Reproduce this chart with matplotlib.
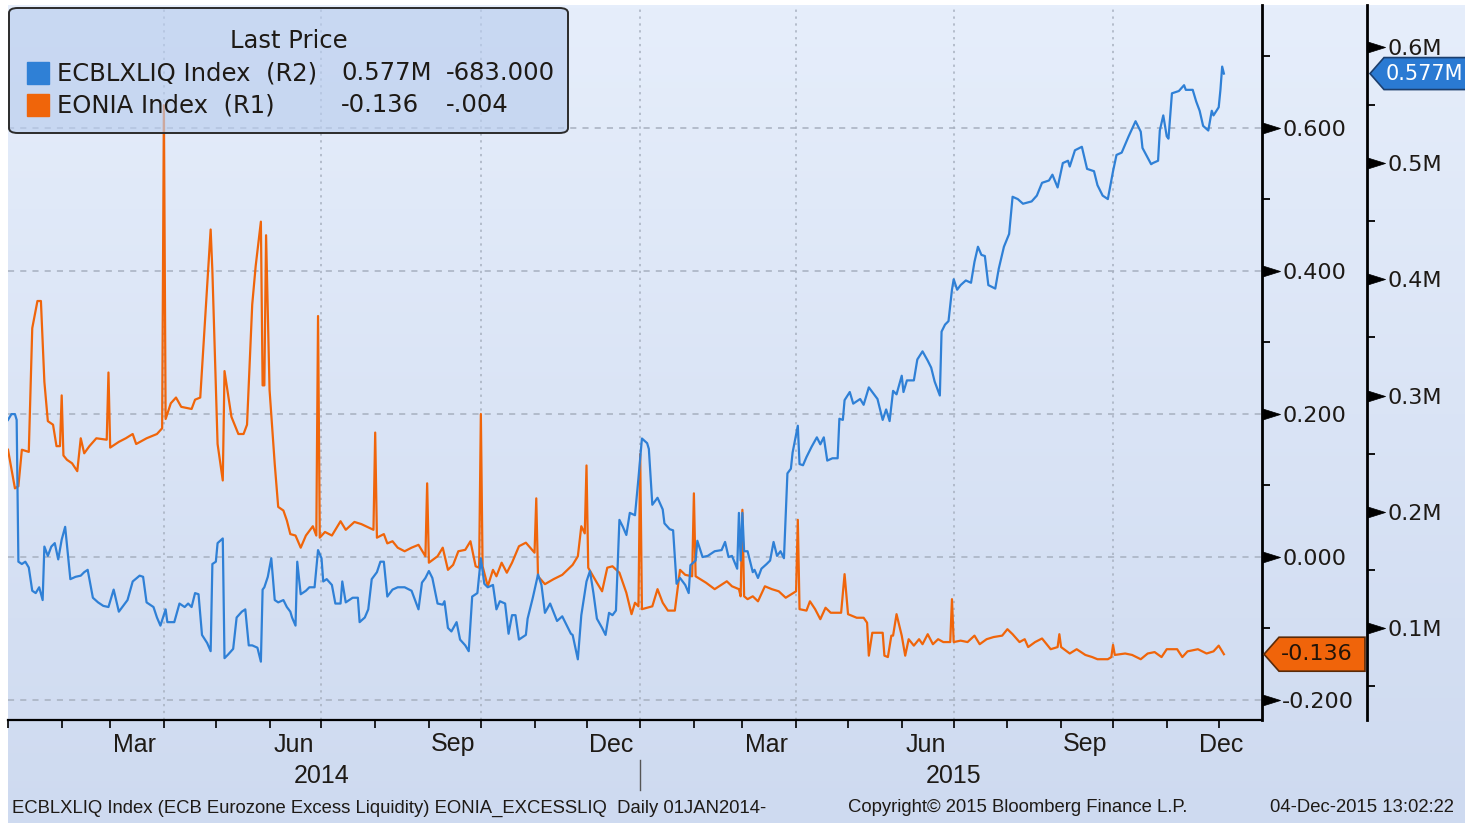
import matplotlib
matplotlib.use('Agg')
import matplotlib.pyplot as plt
import matplotlib.dates as mdates
from matplotlib.colors import LinearSegmentedColormap
from matplotlib.patches import Polygon, FancyBboxPatch, Rectangle
from matplotlib.path import Path
from matplotlib.transforms import IdentityTransform, blended_transform_factory
from matplotlib.ticker import FuncFormatter
import numpy as np
import pandas as pd

start = pd.Timestamp('2014-01-01')

# EONIA Index (R1), days since 01JAN2014 / percent
eonia_days = [0, 4, 6, 8, 12, 14, 17, 19, 21, 23, 26, 28, 30, 31, 32, 34, 37, 40, 42, 44, 47, 51, 57, 58, 59,
              64, 68, 72, 74, 80, 86, 89, 90, 91, 94, 97, 100, 106, 108, 111, 117, 118, 121, 124, 125, 129,
              133, 136, 138, 141, 143, 146, 147, 148, 149, 151, 154, 156, 159, 161, 163, 166, 169, 172, 176,
              178, 179, 180, 183, 187, 192, 195, 200, 204, 211, 212, 213, 217, 219, 222, 225, 229, 233, 237,
              241, 242, 243, 248, 251, 254, 257, 260, 264, 267, 270, 272, 273, 274, 277, 280, 282, 285, 288,
              291, 295, 299, 304, 305, 306, 310, 315, 320, 326, 329, 331, 333, 334, 335, 340, 343, 346, 349,
              353, 357, 360, 362, 364, 365, 366, 372, 375, 378, 381, 385, 388, 391, 395, 396, 397, 403, 408,
              415, 418, 422, 423, 424, 425, 427, 430, 433, 437, 441, 445, 449, 455, 456, 457, 461, 463, 466,
              469, 472, 475, 481, 483, 485, 490, 494, 496, 497, 499, 505, 506, 508, 510, 511, 513, 516, 518,
              520, 523, 526, 528, 531, 534, 537, 540, 544, 545, 546, 550, 554, 558, 561, 565, 569, 574, 577,
              580, 584, 587, 589, 593, 597, 602, 606, 607, 608, 613, 617, 622, 626, 629, 635, 637, 638, 639,
              645, 649, 654, 658, 662, 666, 669, 675, 678, 681, 687, 692, 696, 699, 702]
eonia_vals = [0.150, 0.096, 0.099, 0.150, 0.147, 0.320, 0.358, 0.358, 0.245, 0.190, 0.185, 0.155, 0.155,
              0.226, 0.142, 0.136, 0.131, 0.120, 0.166, 0.145, 0.155, 0.166, 0.164, 0.258, 0.153, 0.161,
              0.166, 0.172, 0.158, 0.166, 0.172, 0.180, 0.632, 0.193, 0.215, 0.223, 0.210, 0.207, 0.220,
              0.223, 0.458, 0.400, 0.158, 0.107, 0.260, 0.196, 0.172, 0.172, 0.185, 0.353, 0.407, 0.469,
              0.240, 0.240, 0.450, 0.234, 0.130, 0.070, 0.065, 0.051, 0.032, 0.030, 0.013, 0.030, 0.043,
              0.030, 0.337, 0.027, 0.035, 0.030, 0.050, 0.038, 0.049, 0.046, 0.038, 0.174, 0.027, 0.032,
              0.019, 0.022, 0.013, 0.008, 0.013, 0.017, 0.001, 0.103, -0.008, 0.001, 0.013, -0.018, -0.011,
              0.008, 0.010, 0.022, -0.013, -0.015, 0.200, -0.013, -0.041, -0.018, -0.027, -0.008, -0.022,
              -0.008, 0.015, 0.020, 0.006, 0.082, -0.027, -0.038, -0.031, -0.025, -0.011, 0.001, 0.043,
              0.033, 0.128, -0.015, -0.036, -0.048, -0.015, -0.013, -0.022, -0.050, -0.080, -0.064, -0.069,
              0.144, -0.073, -0.069, -0.045, -0.064, -0.075, -0.075, -0.018, -0.025, -0.027, 0.089, -0.027,
              -0.036, -0.045, -0.034, -0.041, -0.045, -0.055, 0.066, -0.055, -0.059, -0.055, -0.062, -0.041,
              -0.045, -0.048, -0.057, -0.048, 0.052, -0.073, -0.075, -0.062, -0.073, -0.087, -0.071, -0.078,
              -0.078, -0.024, -0.080, -0.085, -0.085, -0.092, -0.138, -0.106, -0.106, -0.138, -0.140, -0.110,
              -0.110, -0.080, -0.110, -0.138, -0.115, -0.124, -0.115, -0.122, -0.108, -0.122, -0.115, -0.119,
              -0.119, -0.059, -0.119, -0.117, -0.119, -0.110, -0.122, -0.115, -0.112, -0.110, -0.101, -0.108,
              -0.119, -0.115, -0.126, -0.119, -0.114, -0.129, -0.126, -0.108, -0.126, -0.135, -0.129, -0.137,
              -0.140, -0.143, -0.143, -0.140, -0.123, -0.137, -0.135, -0.137, -0.143, -0.135, -0.133, -0.140,
              -0.129, -0.129, -0.140, -0.132, -0.129, -0.135, -0.132, -0.124, -0.136]

# ECBLXLIQ Index (R2), days since 01JAN2014 / millions
liq_days = [0, 2, 4, 5, 6, 8, 10, 12, 14, 16, 18, 20, 21, 23, 25, 27, 29, 31, 33, 36, 39, 42, 44, 46, 49, 52,
            55, 58, 61, 64, 69, 72, 76, 78, 80, 84, 86, 88, 91, 92, 96, 99, 102, 104, 106, 108, 110, 112, 115,
            117, 118, 120, 121, 124, 125, 127, 130, 132, 135, 137, 139, 141, 144, 146, 147, 148, 150, 152, 154,
            156, 159, 161, 163, 164, 166, 167, 169, 172, 174, 177, 179, 181, 182, 184, 187, 189, 192, 193, 195,
            199, 202, 203, 206, 208, 210, 213, 215, 217, 219, 222, 225, 229, 233, 237, 239, 241, 243, 245, 248,
            251, 252, 254, 256, 259, 261, 264, 266, 268, 271, 273, 275, 277, 280, 282, 284, 287, 289, 291, 293,
            295, 299, 300, 303, 306, 308, 310, 313, 317, 320, 325, 326, 329, 331, 334, 336, 338, 340, 343, 345,
            347, 349, 351, 353, 355, 357, 359, 362, 364, 366, 369, 370, 372, 374, 375, 378, 379, 382, 384, 386,
            388, 391, 393, 394, 397, 398, 401, 404, 408, 412, 414, 416, 418, 421, 422, 423, 424, 425, 427, 430,
            431, 433, 435, 438, 440, 442, 444, 446, 448, 450, 452, 453, 456, 457, 459, 461, 464, 467, 469, 471,
            473, 476, 479, 480, 482, 483, 486, 488, 492, 494, 497, 501, 502, 505, 507, 509, 511, 513, 516, 517,
            519, 523, 525, 528, 531, 533, 535, 538, 539, 541, 543, 545, 546, 548, 550, 553, 556, 558, 560, 562,
            564, 566, 570, 572, 575, 578, 580, 583, 586, 591, 594, 597, 601, 603, 606, 609, 612, 613, 616, 620,
            623, 627, 629, 632, 635, 638, 640, 643, 647, 651, 654, 655, 660, 661, 664, 665, 667, 669, 670, 672,
            676, 679, 680, 684, 686, 688, 690, 693, 695, 696, 699, 700, 701, 702]
liq_vals = [0.279, 0.284, 0.284, 0.279, 0.157, 0.155, 0.157, 0.152, 0.132, 0.130, 0.135, 0.124, 0.170, 0.162,
            0.170, 0.173, 0.159, 0.176, 0.187, 0.142, 0.144, 0.145, 0.148, 0.150, 0.126, 0.122, 0.119, 0.118,
            0.133, 0.114, 0.124, 0.140, 0.145, 0.144, 0.122, 0.118, 0.109, 0.102, 0.116, 0.105, 0.105, 0.121,
            0.118, 0.121, 0.118, 0.130, 0.129, 0.094, 0.087, 0.080, 0.155, 0.157, 0.173, 0.177, 0.074, 0.077,
            0.082, 0.109, 0.114, 0.116, 0.085, 0.085, 0.083, 0.071, 0.133, 0.135, 0.144, 0.160, 0.124, 0.122,
            0.124, 0.118, 0.114, 0.109, 0.102, 0.157, 0.129, 0.132, 0.135, 0.135, 0.167, 0.160, 0.140, 0.142,
            0.137, 0.121, 0.121, 0.140, 0.122, 0.126, 0.126, 0.105, 0.109, 0.116, 0.142, 0.148, 0.157, 0.157,
            0.127, 0.133, 0.135, 0.135, 0.132, 0.116, 0.139, 0.143, 0.149, 0.143, 0.121, 0.120, 0.123, 0.100,
            0.097, 0.105, 0.090, 0.085, 0.080, 0.127, 0.130, 0.160, 0.138, 0.135, 0.137, 0.116, 0.123, 0.121,
            0.095, 0.111, 0.111, 0.090, 0.094, 0.108, 0.126, 0.146, 0.137, 0.113, 0.121, 0.106, 0.110, 0.095,
            0.094, 0.073, 0.111, 0.140, 0.149, 0.130, 0.108, 0.100, 0.094, 0.113, 0.111, 0.115, 0.193, 0.187,
            0.180, 0.199, 0.197, 0.229, 0.263, 0.259, 0.254, 0.206, 0.210, 0.212, 0.202, 0.190, 0.185, 0.184,
            0.138, 0.143, 0.137, 0.130, 0.154, 0.158, 0.175, 0.161, 0.162, 0.166, 0.167, 0.174, 0.161, 0.162,
            0.151, 0.199, 0.158, 0.199, 0.166, 0.166, 0.148, 0.150, 0.143, 0.151, 0.155, 0.158, 0.174, 0.162,
            0.166, 0.160, 0.233, 0.237, 0.251, 0.274, 0.241, 0.240, 0.247, 0.256, 0.264, 0.258, 0.264, 0.244,
            0.246, 0.246, 0.280, 0.279, 0.296, 0.303, 0.293, 0.297, 0.292, 0.307, 0.299, 0.297, 0.279, 0.288,
            0.278, 0.304, 0.301, 0.317, 0.303, 0.313, 0.313, 0.331, 0.338, 0.330, 0.324, 0.312, 0.300, 0.355,
            0.361, 0.364, 0.391, 0.400, 0.391, 0.395, 0.399, 0.397, 0.415, 0.428, 0.421, 0.420, 0.395, 0.392,
            0.409, 0.428, 0.439, 0.471, 0.469, 0.465, 0.467, 0.472, 0.483, 0.485, 0.490, 0.479, 0.500, 0.502,
            0.497, 0.511, 0.514, 0.495, 0.493, 0.481, 0.472, 0.469, 0.493, 0.507, 0.509, 0.523, 0.536, 0.527,
            0.513, 0.499, 0.500, 0.502, 0.528, 0.541, 0.523, 0.521, 0.560, 0.562, 0.567, 0.563, 0.563, 0.553,
            0.545, 0.532, 0.528, 0.545, 0.541, 0.548, 0.563, 0.583, 0.577]

liq_last, liq_chg = 0.577, '-683.000'
eonia_last, eonia_chg = -0.136, '-.004'

r1_ticks = [-0.2, 0.0, 0.2, 0.4, 0.6]
r1_minor = [-0.1, 0.1, 0.3, 0.5, 0.7]
r2_ticks = [0.1, 0.2, 0.3, 0.4, 0.5, 0.6]
r2_minor = [0.05, 0.15, 0.25, 0.35, 0.45, 0.55]

BLUE = '#2f80d6'
ORANGE = '#f0650a'
GRID = '#a7b0bf'
TXT = '#1e1a16'
NARROW = ['Liberation Sans', 'DejaVu Sans']

W, H = 1465, 823
fig = plt.figure(figsize=(W / 100, H / 100), dpi=100, facecolor='white')

# gradient background
bg = fig.add_axes([8 / W, 0, 1 - 8 / W, (H - 5) / H], zorder=0)
cmap = LinearSegmentedColormap.from_list('bg', ['#e6eefb', '#cedaf0'])
bg.imshow(np.linspace(0, 1, 256)[:, None], cmap=cmap, aspect='auto', extent=(0, 1, 0, 1), origin='upper')
bg.axis('off')

ax = fig.add_axes([8 / W, 103 / H, 1254 / W, 715 / H], zorder=2)
ax.patch.set_visible(False)
ax2 = ax.twinx()

e_dates = start + pd.to_timedelta(eonia_days, unit='D')
l_dates = start + pd.to_timedelta(liq_days, unit='D')
ax2.plot(l_dates, liq_vals, color=BLUE, lw=1.6, solid_joinstyle='round')
ax.plot(e_dates, eonia_vals, color=ORANGE, lw=1.6, solid_joinstyle='round')

ax.set_xlim(start, start + pd.Timedelta(days=724))
ax.set_ylim(-0.228, 0.772)
ax2.set_ylim(0.0208, 0.636)

# grid
for v in r1_ticks:
    ax.axhline(v, color=GRID, lw=1.1, ls=(0, (4, 4)), zorder=0)
for d in pd.date_range('2014-04-01', '2015-12-31', freq='QS'):
    ax.axvline(d, color=GRID, lw=1.1, ls=(0, (1.5, 3)), zorder=0)

# spines
for s in ['top', 'left']:
    ax.spines[s].set_visible(False)
ax.spines['bottom'].set_linewidth(1.6)
ax.spines['right'].set_linewidth(2)
for s in ['top', 'left', 'bottom']:
    ax2.spines[s].set_visible(False)
ax2.spines['right'].set_position(('axes', (1367 - 8) / 1254))
ax2.spines['right'].set_linewidth(2)

# y axes
tri = Path([(0, -0.5), (1.6, 0), (0, 0.5), (0, -0.5)], [Path.MOVETO, Path.LINETO, Path.LINETO, Path.CLOSEPOLY])
for a, major, minor, fmt in [(ax, r1_ticks, r1_minor, lambda v, p: f'{v:.3f}'),
                             (ax2, r2_ticks, r2_minor, lambda v, p: f'{v:.1f}M')]:
    a.yaxis.tick_right()
    a.set_yticks(major)
    a.set_yticks(minor, minor=True)
    a.yaxis.set_major_formatter(FuncFormatter(fmt))
    a.tick_params(axis='y', which='major', length=13, pad=1.5, labelsize=16, labelcolor=TXT, color='black')
    a.tick_params(axis='y', which='minor', length=5.5, width=1.3, color='black')
    for t in a.yaxis.get_major_ticks():
        t.tick2line.set_marker(tri)
        t.tick2line.set_markersize(26)
        t.tick2line.set_markeredgewidth(0.5)

# x axis
ax.xaxis.set_major_locator(mdates.MonthLocator())
ax.xaxis.set_major_formatter(plt.NullFormatter())
ax.xaxis.set_minor_locator(mdates.MonthLocator(bymonth=[3, 6, 9, 12], bymonthday=15))
ax.xaxis.set_minor_formatter(mdates.DateFormatter('%b'))
ax.tick_params(axis='x', which='major', length=6, width=1.2, color='black', direction='out')
ax.tick_params(axis='x', which='minor', length=0, pad=9, labelsize=18, labelcolor=TXT)
for lab in ax.xaxis.get_minorticklabels():
    lab.set_family(NARROW)
ax.xaxis.get_minor_ticks()[-1].label1.set_horizontalalignment('right')

xt = blended_transform_factory(ax.transData, ax.transAxes)
for yr in ['2014', '2015']:
    ax.text(pd.Timestamp(f'{yr}-07-01'), -0.078, yr, transform=xt, ha='center', va='center',
            fontsize=18, color=TXT, family=NARROW)
ax.axvline(pd.Timestamp('2015-01-01'), ymin=-0.098, ymax=-0.056, color='#555555', lw=1, clip_on=False)

# footer
fy = 1 - 808 / H
FFS = 13.3
fig.text(12 / W, fy, 'ECBLXLIQ Index (ECB Eurozone Excess Liquidity) EONIA_EXCESSLIQ  Daily 01JAN2014-',
         fontsize=FFS, color=TXT, family=NARROW, va='center')
fig.text(848 / W, fy, 'Copyright\u00a9 2015 Bloomberg Finance L.P.', fontsize=FFS, color=TXT,
         family=NARROW, va='center')
fig.text(1270 / W, fy, '04-Dec-2015 13:02:22', fontsize=FFS, color=TXT, family=NARROW, va='center')

# legend box
def px(x, y):
    return x / W, 1 - y / H

box = FancyBboxPatch(px(9, 133), 559 / W, 125 / H, boxstyle='round,pad=0,rounding_size=0.006',
                     transform=fig.transFigure, facecolor='#b9cdee', alpha=0.65, edgecolor='none', zorder=3)
fig.add_artist(box)
edge = FancyBboxPatch(px(9, 133), 559 / W, 125 / H, boxstyle='round,pad=0,rounding_size=0.006',
                      transform=fig.transFigure, facecolor='none', edgecolor='#2b2b2b', lw=1.4, zorder=3.1)
fig.add_artist(edge)
LFS = 17.5
fig.text(*px(289, 41), 'Last Price', ha='center', va='center', fontsize=LFS, color=TXT, zorder=4)
rows = [(BLUE, 'ECBLXLIQ Index  (R2)', f'{liq_last:.3f}M', liq_chg, 73),
        (ORANGE, 'EONIA Index  (R1)', f'{eonia_last:.3f}', eonia_chg, 105)]
for col, name, last, chg, y in rows:
    fig.add_artist(Rectangle(px(27, y + 11), 22 / W, 22 / H, transform=fig.transFigure, color=col, zorder=4))
    fig.text(*px(57, y), name, va='center', fontsize=LFS, color=TXT, zorder=4)
    fig.text(*px(341, y), last, va='center', fontsize=LFS, color=TXT, zorder=4)
    fig.text(*px(446, y), chg, va='center', fontsize=LFS, color=TXT, zorder=4)

# last value tags
yb = ax2.transData.transform((0, liq_last))[1]
yo = ax.transData.transform((0, eonia_last))[1]
tag_b = Polygon([(1370, yb), (1384, yb + 16), (1470, yb + 16), (1470, yb - 16), (1384, yb - 16)],
                closed=True, transform=IdentityTransform(), facecolor='#2a7ad3', edgecolor='#1c3f6e', lw=1.2,
                zorder=5)
fig.add_artist(tag_b)
fig.text(1386, yb, f'{liq_last:.3f}M', transform=IdentityTransform(), va='center', fontsize=15,
         color='white', zorder=6)
tag_o = Polygon([(1264, yo), (1279, yo + 17), (1365, yo + 17), (1365, yo - 17), (1279, yo - 17)],
                closed=True, transform=IdentityTransform(), facecolor='#f0640a', edgecolor='#5a2a08', lw=1.2,
                zorder=5)
fig.add_artist(tag_o)
fig.text(1281, yo, f'{eonia_last:.3f}', transform=IdentityTransform(), va='center', fontsize=16,
         color='#221408', zorder=6)

fig.savefig('out.png', dpi=100, facecolor=fig.get_facecolor())
